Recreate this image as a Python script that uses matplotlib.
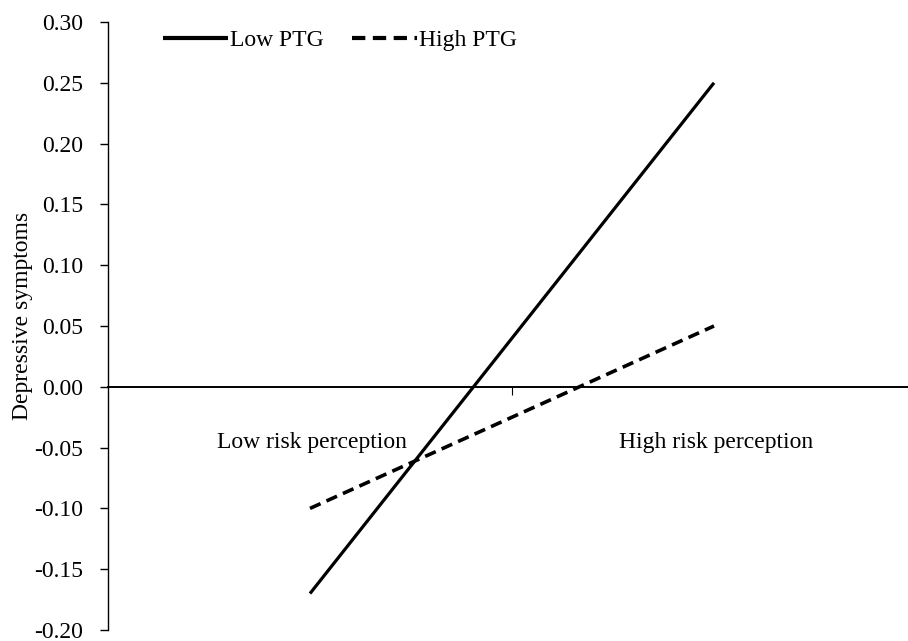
import matplotlib
matplotlib.use("Agg")
import matplotlib.pyplot as plt

plt.rcParams['font.family'] = ['Liberation Serif', 'DejaVu Serif']

# Simple-slope data: depressive symptoms by risk perception for two PTG levels
categories = ["Low risk perception", "High risk perception"]
series_names = ["Low PTG", "High PTG"]
low_ptg = [-0.17, 0.25]
high_ptg = [-0.10, 0.05]
y_ticks = [-0.20, -0.15, -0.10, -0.05, 0.00, 0.05, 0.10, 0.15, 0.20, 0.25, 0.30]

FS = 17
W, H = 908, 641
fig = plt.figure(figsize=(W / 100, H / 100), dpi=100)

# axes box in pixel terms (right edge runs slightly past the canvas)
left_px, right_px, top_px, bottom_px = 108, 916, 22, 630
ax = fig.add_axes([left_px / W, 1 - bottom_px / H,
                   (right_px - left_px) / W, (bottom_px - top_px) / H])

x = list(range(len(categories)))
ax.plot(x, low_ptg, color='black', lw=2.3, solid_capstyle='butt',
        label=series_names[0])
ax.plot(x, high_ptg, color='black', lw=2.6, linestyle=(0, (3.2, 1.8)),
        dash_capstyle='butt', label=series_names[1])

ax.set_xlim(-0.5, 1.5)
ax.set_ylim(-0.20, 0.30)

# category axis crosses at zero
for s in ('top', 'right'):
    ax.spines[s].set_visible(False)
ax.spines['bottom'].set_position(('data', 0))
ax.spines['bottom'].set_linewidth(1.4)
ax.spines['left'].set_linewidth(1.0)
ax.set_xticks([0.5])
ax.set_xticklabels([])
ax.tick_params(axis='x', direction='out', length=6, width=0.8, color='black')

ax.set_yticks(y_ticks)
ax.set_yticklabels([f"{v:.2f}" for v in y_ticks])
ax.tick_params(axis='y', direction='out', length=6, width=1.0, pad=12,
               labelsize=FS, color='black')

for xi, cat in zip(x, categories):
    ax.text(xi + 0.005, -0.0455, cat, ha='center', va='center', fontsize=FS)

ax.set_ylabel("Depressive symptoms", fontsize=FS)
ax.yaxis.set_label_coords((33 - left_px) / (right_px - left_px),
                          (bottom_px - 316) / (bottom_px - top_px))

leg = ax.legend(loc='center left', bbox_to_anchor=(163 / W, 1 - 40 / H),
                bbox_transform=fig.transFigure, ncol=2, frameon=False,
                fontsize=FS, borderpad=0, borderaxespad=0, handlelength=2.75,
                handletextpad=0.1, columnspacing=1.17)
for line in leg.get_lines():
    line.set_linewidth(3.0)

fig.savefig("out.png", dpi=100)
